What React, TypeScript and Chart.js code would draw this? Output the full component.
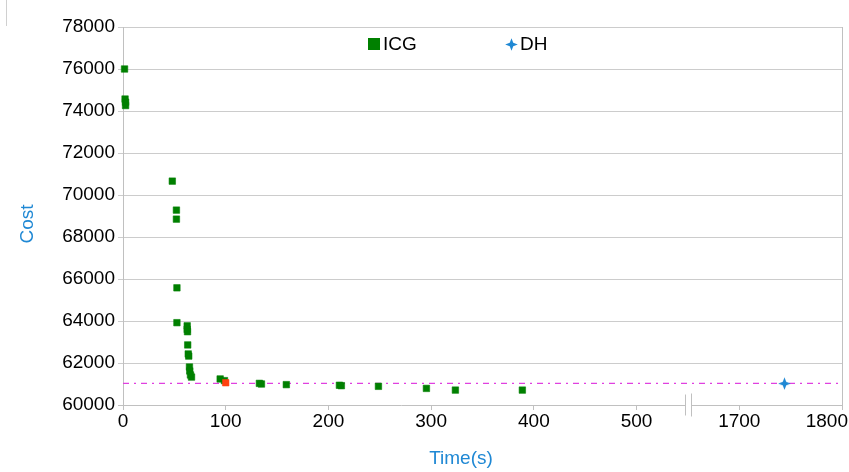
import React, { useEffect, useRef } from "react";
import { Chart, registerables } from "chart.js";
Chart.register(...registerables);

const ICG_TIME = [1.5, 2, 2.5, 2.5, 48, 52, 52, 52.5, 52.5, 62.5, 62.5, 62.8, 63, 63.5, 64, 64.7, 65, 65.7, 66.7, 94.6, 98.8, 132.8, 134.8, 159, 210.7, 212.6, 248.7, 295.4, 323.6, 388.8];
const ICG_COST = [76000, 74570, 74420, 74260, 70660, 69280, 68850, 65580, 63920, 63770, 63600, 63490, 62860, 62430, 62330, 61810, 61620, 61430, 61330, 61240, 61160, 61030, 61000, 60970, 60940, 60920, 60890, 60790, 60710, 60710];
const BEST_TIME = [100];
const BEST_COST = [61060];
const DH_TIME = [1744];
const DH_COST = [61020];
const REF_COST = 61030;
const X_TICKS = [0, 100, 200, 300, 400, 500, 1700, 1800];
const Y_MIN = 60000;
const Y_MAX = 78000;
const Y_STEP = 2000;
const BREAK_FROM = 550;
const BREAK_SHIFT = 1100;

const toAxis = (t: number) => (t > BREAK_FROM ? t - BREAK_SHIFT : t);

const FONT = "'Liberation Sans', Arial, sans-serif";
const GREEN = "#008000";
const BLUE = "#1f88d4";
const GRID = "#cccccc";

function makeStar(size: number, color: string) {
  const c = document.createElement("canvas");
  c.width = size;
  c.height = size;
  const g = c.getContext("2d")!;
  const cx = size / 2, cy = size / 2;
  const ro = size / 2 - 0.2, ri = size * 0.19;
  g.beginPath();
  for (let i = 0; i < 8; i++) {
    const a = (Math.PI / 4) * i - Math.PI / 2;
    const r = i % 2 === 0 ? ro : ri;
    const x = cx + r * Math.cos(a), y = cy + r * Math.sin(a);
    if (i === 0) g.moveTo(x, y); else g.lineTo(x, y);
  }
  g.closePath();
  g.fillStyle = color;
  g.fill();
  return c;
}

export default function App() {
  const ref = useRef<HTMLCanvasElement | null>(null);
  useEffect(() => {
    const star = makeStar(13, BLUE);
    const decor = {
      id: "decor",
      afterDraw(chart: any) {
        const ctx = chart.ctx as CanvasRenderingContext2D;
        const xs = chart.scales.x;
        const area = chart.chartArea;
        const yb = Math.round(area.bottom) + 0.5;
        const breakPx = xs.getPixelForValue(BREAK_FROM);
        ctx.save();
        ctx.strokeStyle = "#c0c0c0";
        ctx.lineWidth = 1;
        ctx.beginPath();
        ctx.moveTo(area.left - 5, yb);
        ctx.lineTo(Math.round(breakPx - 3) + 0.5, yb);
        ctx.moveTo(Math.round(breakPx + 3) + 0.5, yb);
        ctx.lineTo(area.right, yb);
        ctx.stroke();
        ctx.beginPath();
        ctx.moveTo(Math.round(breakPx - 3) + 0.5, yb - 11);
        ctx.lineTo(Math.round(breakPx - 3) + 0.5, yb + 10);
        ctx.moveTo(Math.round(breakPx + 3) + 0.5, yb - 12);
        ctx.lineTo(Math.round(breakPx + 3) + 0.5, yb + 11);
        ctx.stroke();
        ctx.beginPath();
        const xr = Math.round(area.right) + 0.5;
        ctx.moveTo(xr, area.top);
        ctx.lineTo(xr, yb);
        ctx.stroke();
        ctx.strokeStyle = "#d0d0d0";
        ctx.beginPath();
        ctx.moveTo(6.5, 0);
        ctx.lineTo(6.5, 26);
        ctx.stroke();
        ctx.fillStyle = "#000";
        ctx.font = `19px ${FONT}`;
        ctx.textBaseline = "middle";
        X_TICKS.forEach((t, i) => {
          const px = xs.getPixelForValue(toAxis(t));
          if (i === X_TICKS.length - 1) {
            ctx.textAlign = "right";
            ctx.fillText(String(t), 848, 422);
          } else {
            ctx.textAlign = "center";
            ctx.fillText(String(t), px, 422);
          }
        });
        ctx.fillStyle = BLUE;
        ctx.textAlign = "center";
        ctx.fillText("Time(s)", 461, 459);
        ctx.save();
        ctx.translate(28, 224);
        ctx.rotate(-Math.PI / 2);
        ctx.fillText("Cost", 0, 0);
        ctx.restore();
        ctx.fillStyle = GREEN;
        ctx.fillRect(368, 38, 12, 12);
        ctx.fillStyle = "#000";
        ctx.textAlign = "left";
        ctx.fillText("ICG", 383, 45);
        ctx.drawImage(star, 505, 38);
        ctx.fillText("DH", 520, 45);
        ctx.restore();
      },
    };
    const chart = new Chart(ref.current!, {
      type: "scatter",
      data: {
        datasets: [
          {
            label: "ICG",
            data: ICG_TIME.map((t, i) => ({ x: toAxis(t), y: ICG_COST[i] })),
            pointStyle: "rect",
            pointRadius: 4.6,
            backgroundColor: GREEN,
            borderColor: "rgba(0,128,0,0.55)",
            borderWidth: 1,
            clip: false,
            order: 2,
          } as any,
          {
            label: "Best",
            data: BEST_TIME.map((t, i) => ({ x: toAxis(t), y: BEST_COST[i] })),
            pointStyle: "rect",
            pointRadius: 4.6,
            backgroundColor: "#ff4010",
            borderColor: "rgba(255,64,16,0.55)",
            borderWidth: 1,
            clip: false,
            order: 1,
          } as any,
          {
            label: "DH",
            data: DH_TIME.map((t, i) => ({ x: toAxis(t), y: DH_COST[i] })),
            pointStyle: star,
            pointRadius: 6,
            backgroundColor: BLUE,
            borderColor: BLUE,
            clip: false,
            order: 1,
          } as any,
          {
            type: "line",
            label: "ref",
            data: [
              { x: 0, y: REF_COST },
              { x: 700, y: REF_COST },
            ],
            borderColor: "#e040e0",
            borderWidth: 1.3,
            borderDash: [6, 5, 2, 5],
            pointRadius: 0,
            showLine: true,
            order: 10,
          } as any,
        ],
      },
      options: {
        animation: false,
        responsive: false,
        devicePixelRatio: 1,
        layout: { padding: { top: 27, right: 7, left: 0, bottom: 0 } },
        plugins: { legend: { display: false }, tooltip: { enabled: false } },
        scales: {
          x: {
            type: "linear",
            min: 0,
            max: 700,
            ticks: { stepSize: 100, display: false },
            grid: { drawOnChartArea: false, drawTicks: true, tickLength: 5, color: "#c0c0c0" },
            border: { display: false },
            afterFit: (s: any) => {
              s.height = 67;
              s.paddingLeft = 0;
              s.paddingRight = 0;
            },
          },
          y: {
            min: Y_MIN,
            max: Y_MAX,
            ticks: {
              stepSize: Y_STEP,
              color: "#000",
              padding: 3,
              font: { size: 19, family: FONT },
              callback: (v: any) => String(v),
            },
            grid: {
              color: (c: any) => (c.tick && c.tick.value === Y_MIN ? "rgba(0,0,0,0)" : GRID),
              tickLength: 5,
            },
            border: { color: "#c0c0c0" },
            afterFit: (s: any) => {
              s.width = 123;
            },
          },
        },
      },
      plugins: [decor],
    });
    return () => chart.destroy();
  }, []);
  return (
    <div style={{ position: "fixed", left: 0, top: 0, width: 849, height: 472, background: "#fff" }}>
      <canvas ref={ref} width={849} height={472} style={{ width: 849, height: 472 }} />
    </div>
  );
}
